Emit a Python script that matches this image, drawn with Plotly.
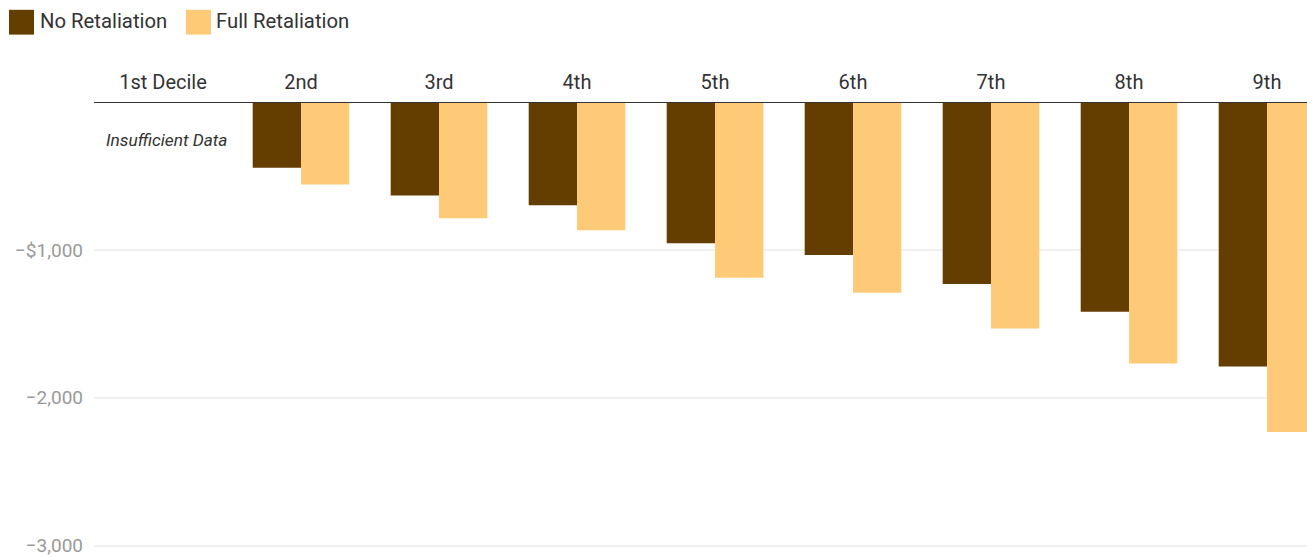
import plotly.graph_objects as go

# Income deciles and the change in after-tax income (dollars) under each scenario
deciles = ["1st Decile", "2nd", "3rd", "4th", "5th", "6th", "7th", "8th", "9th"]
no_retaliation = [None, -444, -632, -699, -956, -1035, -1230, -1419, -1789]
full_retaliation = [None, -558, -787, -867, -1189, -1290, -1532, -1768, -2232]

series_names = ["No Retaliation", "Full Retaliation"]
series_colors = ["#643D00", "#FECA77"]

y_tick_vals = [-1000, -2000, -3000]
y_tick_text = ["\u2212$1,000", "\u22122,000", "\u22123,000"]

no_data_note = "Insufficient Data"

W, H = 1307, 557
ML, MR, MT, MB = 94, 0, 102, 0
PW, PH = W - ML - MR, H - MT - MB

FONT = "Roboto, Arial, sans-serif"


def px_to_paper_x(px):
    return (px - ML) / PW


def px_to_paper_y(py):
    return (H - MB - py) / PH


fig = go.Figure()
for name, vals, color in zip(series_names, [no_retaliation, full_retaliation], series_colors):
    fig.add_trace(go.Bar(
        x=deciles, y=vals, name=name, marker=dict(color=color, line=dict(width=0)),
        showlegend=False, hoverinfo="x+y",
    ))

shapes = []
annotations = []

# zero baseline across the plot
shapes.append(dict(type="line", xref="paper", yref="y", x0=0, x1=1, y0=0, y1=0,
                   line=dict(color="#333333", width=2), layer="above"))

# legend swatches and labels along the top-left
legend_items = [(9, 38), (186, 214)]
for (sx, tx), name, color in zip(legend_items, series_names, series_colors):
    shapes.append(dict(type="rect", xref="paper", yref="paper",
                       x0=px_to_paper_x(sx), x1=px_to_paper_x(sx + 25),
                       y0=px_to_paper_y(34), y1=px_to_paper_y(9),
                       fillcolor=color, line=dict(width=0)))
    annotations.append(dict(text=name, xref="paper", yref="paper",
                            x=px_to_paper_x(tx), y=px_to_paper_y(20.5),
                            xanchor="left", yanchor="middle", showarrow=False,
                            font=dict(family=FONT, size=20.3, color="#333333")))

annotations.append(dict(text="<i>" + no_data_note + "</i>", x=deciles[0], y=-256,
                        xref="x", yref="y", showarrow=False, xshift=3,
                        xanchor="center", yanchor="middle",
                        font=dict(family=FONT, size=17.3, color="#333333")))

fig.update_layout(
    width=W, height=H,
    margin=dict(l=ML, r=MR, t=MT, b=MB, pad=0),
    paper_bgcolor="white", plot_bgcolor="white",
    barmode="group", bargap=0.3, bargroupgap=0,
    shapes=shapes, annotations=annotations,
    font=dict(family=FONT),
    xaxis=dict(
        side="top", type="category", range=[-0.5, -0.5 + PW / 138.0],
        showgrid=False, showline=False, zeroline=False, ticks="",
        tickfont=dict(family=FONT, size=20, color="#333333"),
        ticklabelstandoff=8,
    ),
    yaxis=dict(
        range=[-3050, 0], tickvals=y_tick_vals, ticktext=y_tick_text,
        showgrid=True, gridcolor="#F0F0F0", gridwidth=2,
        zeroline=False, showline=False, ticks="",
        tickfont=dict(family=FONT, size=19, color="#9A9A9A"),
        ticklabelstandoff=10, ticklabeloverflow="allow",
    ),
)

fig.write_html("out.html")
